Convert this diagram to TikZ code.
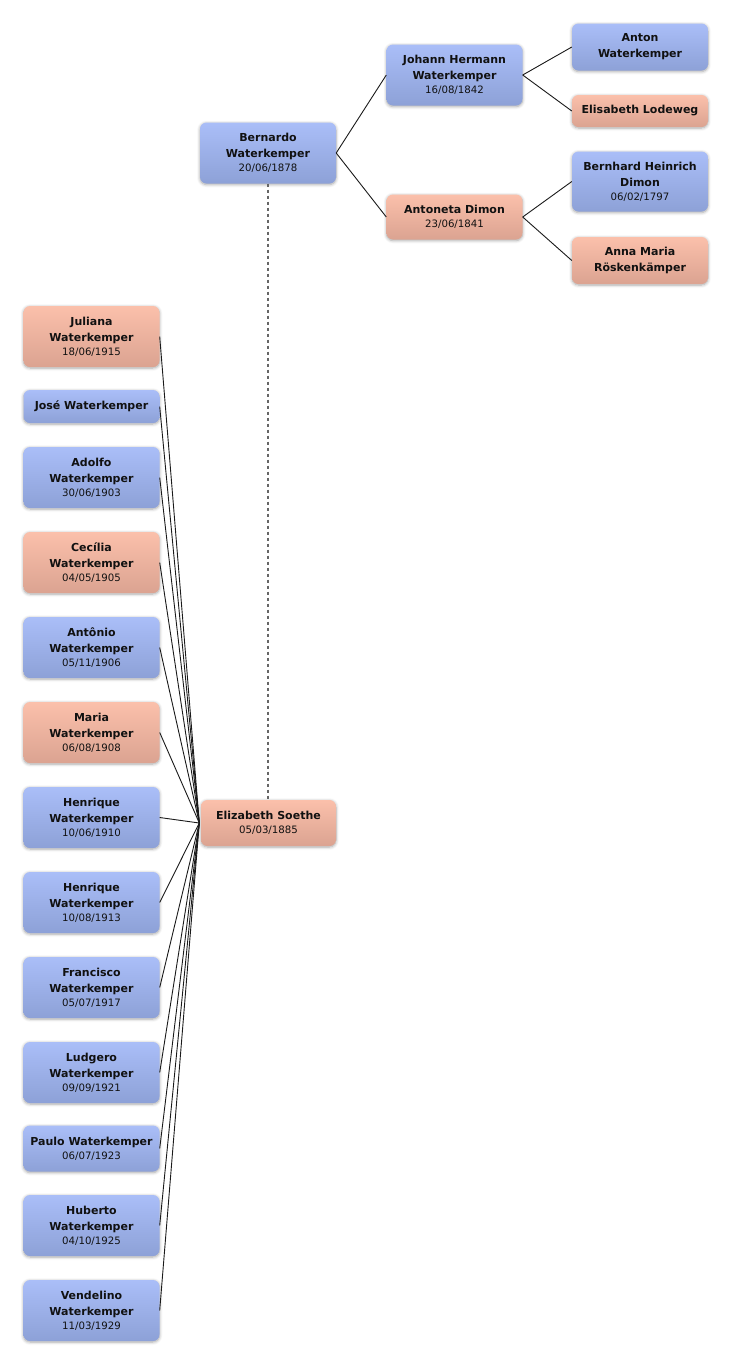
\documentclass[tikz,border=0pt]{standalone}
\usepackage{fontspec}
\setmainfont{DejaVu Sans}
\usetikzlibrary{shadows.blur}
\definecolor{btop}{HTML}{AABEF8}
\definecolor{bbot}{HTML}{8DA1D7}
\definecolor{ptop}{HTML}{FBC0AB}
\definecolor{pbot}{HTML}{DBA391}
\definecolor{linec}{HTML}{1A1A1A}
\definecolor{txt}{HTML}{111111}
\newcommand\dt[1]{{\fontsize{10.2}{12}\selectfont\mdseries #1}}
\tikzset{
  person/.style={rounded corners=6.5pt, minimum width=136pt, inner sep=0pt,
    align=center, text=txt,
    font=\fontsize{11}{16.2}\selectfont\bfseries,
    blur shadow={shadow xshift=0pt, shadow yshift=-1pt, shadow blur radius=3pt, shadow opacity=35, shadow blur steps=6}},
  male/.style={person, top color=btop, bottom color=bbot},
  female/.style={person, top color=ptop, bottom color=pbot},
  hthree/.style={minimum height=61pt},
  htwo/.style={minimum height=46pt},
  hone/.style={minimum height=33pt},
  link/.style={draw=linec, line width=0.9pt},
  marriage/.style={draw=black!60, line width=2pt, dash pattern=on 3pt off 3pt}
}
\begin{document}
\begin{tikzpicture}[x=1pt,y=-1pt]
\useasboundingbox (0,0) rectangle (732,1366);
% ancestors
\node[male,hthree] (B) at (268,153) {Bernardo\\Waterkemper\\[-2pt]\dt{20/06/1878}};
\node[male,hthree] (J) at (454.5,75) {Johann Hermann\\Waterkemper\\[-2pt]\dt{16/08/1842}};
\node[male,htwo,minimum height=47pt] (A) at (640,47) {Anton\\Waterkemper};
\node[female,hone,minimum height=32pt] (EL) at (640,111) {Elisabeth Lodeweg};
\node[male,hthree,minimum height=60pt] (BH) at (640,181.5) {Bernhard Heinrich\\Dimon\\[-2pt]\dt{06/02/1797}};
\node[female,htwo,minimum height=45pt] (AD) at (454.5,217) {Antoneta Dimon\\[-2pt]\dt{23/06/1841}};
\node[female,htwo,minimum height=47pt] (AM) at (640,260.5) {Anna Maria\\Röskenkämper};
\node[female,htwo,minimum width=135pt] (ES) at (268.5,823) {Elizabeth Soethe\\[-2pt]\dt{05/03/1885}};
% children
\node[female,hthree] (c1) at (91.5,336.5) {Juliana\\Waterkemper\\[-2pt]\dt{18/06/1915}};
\node[male,hone] (c2) at (91.5,406.5) {José Waterkemper};
\node[male,hthree] (c3) at (91.5,477.5) {Adolfo\\Waterkemper\\[-2pt]\dt{30/06/1903}};
\node[female,hthree] (c4) at (91.5,562.5) {Cecília\\Waterkemper\\[-2pt]\dt{04/05/1905}};
\node[male,hthree] (c5) at (91.5,647.5) {Antônio\\Waterkemper\\[-2pt]\dt{05/11/1906}};
\node[female,hthree] (c6) at (91.5,732.5) {Maria\\Waterkemper\\[-2pt]\dt{06/08/1908}};
\node[male,hthree] (c7) at (91.5,817.5) {Henrique\\Waterkemper\\[-2pt]\dt{10/06/1910}};
\node[male,hthree] (c8) at (91.5,902.5) {Henrique\\Waterkemper\\[-2pt]\dt{10/08/1913}};
\node[male,hthree] (c9) at (91.5,987.5) {Francisco\\Waterkemper\\[-2pt]\dt{05/07/1917}};
\node[male,hthree] (c10) at (91.5,1072.5) {Ludgero\\Waterkemper\\[-2pt]\dt{09/09/1921}};
\node[male,htwo] (c11) at (91.5,1148.5) {Paulo Waterkemper\\[-2pt]\dt{06/07/1923}};
\node[male,hthree] (c12) at (91.5,1225.5) {Huberto\\Waterkemper\\[-2pt]\dt{04/10/1925}};
\node[male,hthree] (c13) at (91.5,1310.5) {Vendelino\\Waterkemper\\[-2pt]\dt{11/03/1929}};
% connectors
\draw[link] (B.east) -- (J.west);
\draw[link] (B.east) -- (AD.west);
\draw[link] (J.east) -- (A.west);
\draw[link] (J.east) -- (EL.west);
\draw[link] (AD.east) -- (BH.west);
\draw[link] (AD.east) -- (AM.west);
\draw[marriage] (B.south) -- (B.south |- ES.north);
\coordinate (hub) at ([xshift=-1.5pt]ES.west);
\foreach \c in {c1,c2,c3,c4,c5,c6,c7,c8,c9,c10,c11,c12,c13}
  \draw[link] (\c.east) -- (hub);
\end{tikzpicture}
\end{document}
